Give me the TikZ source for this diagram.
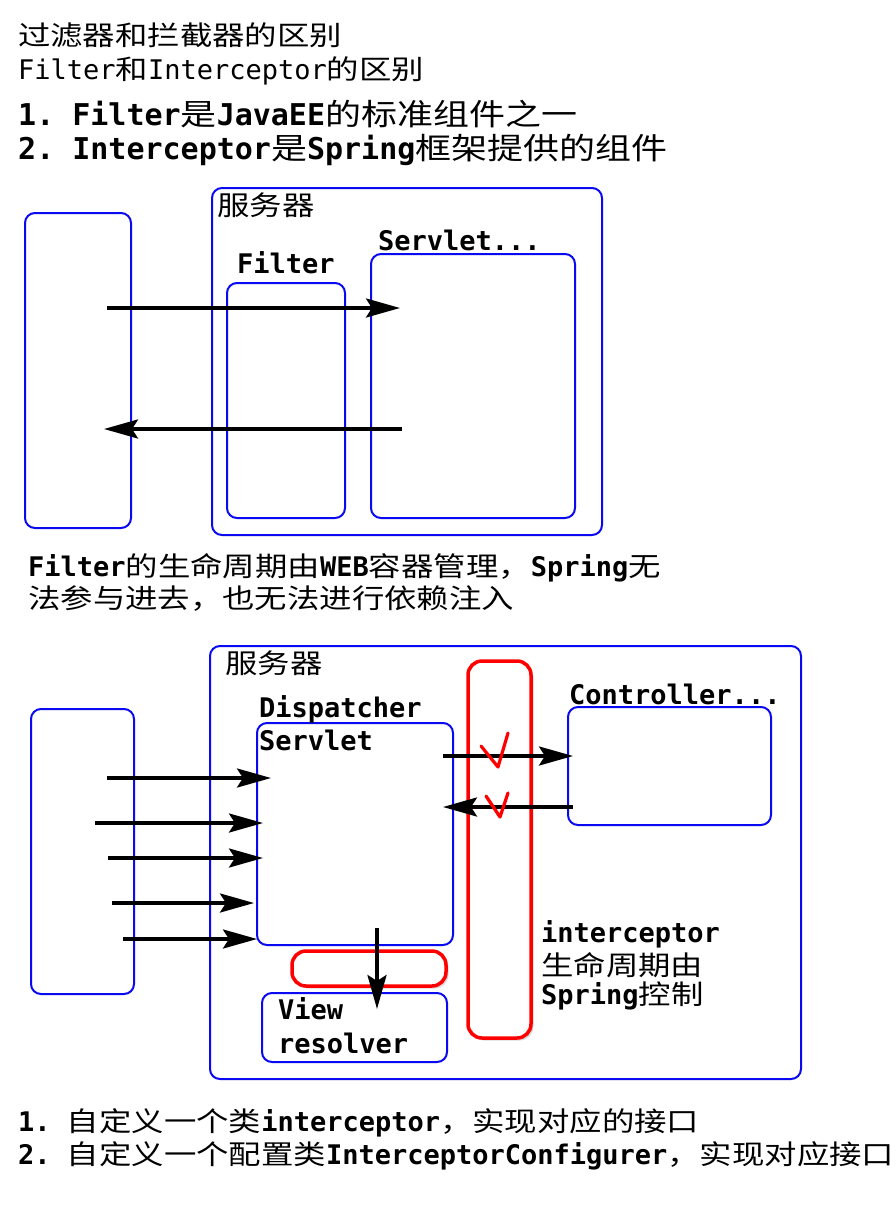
\documentclass[tikz,border=0pt]{standalone}
\usepackage{fontspec}
\setmainfont{DejaVu Sans Mono}
\newfontfamily\cjk{Noto Sans CJK SC}[FakeStretch=1.2]
\newcommand\zh[1]{{\cjk\mdseries #1}}
\frenchspacing
\usetikzlibrary{arrows.meta,shadows}
\definecolor{boxblue}{RGB}{10,10,240}
\tikzset{
  bluebox/.style={draw=boxblue, line width=2pt, rounded corners=10pt, inner sep=0pt, outer sep=0pt, anchor=north west},
  redbox/.style={draw=red, fill=white, line width=3.5pt, rounded corners=14pt, inner sep=0pt, outer sep=0pt, anchor=north west,
    drop shadow={shadow xshift=2.5pt, shadow yshift=-2.5pt, opacity=0.3}},
  lbl/.style={anchor=base west, inner sep=0pt, font=\fontsize{27}{33}\selectfont\bfseries},
  title/.style={anchor=base west, inner sep=0pt, font=\fontsize{27}{33}\selectfont},
  bigtitle/.style={anchor=base west, inner sep=0pt, font=\fontsize{30}{36}\selectfont\bfseries},
  flow/.style={line width=3.5pt, -{Stealth[length=34pt, width=19pt, inset=6pt]}},
  tick/.style={red, line width=3.2pt, line cap=round, line join=round},
}
\begin{document}
\begin{tikzpicture}[x=1pt,y=-1pt]
  \useasboundingbox (0,0) rectangle (895,1205);
  \fill[white] (0,0) rectangle (895,1205);

  % titles
  \node[title] (t1) at (18,45) {\zh{过滤器和拦截器的区别}};
  \node[title] (t2) at (18,79) {Filter\zh{和}Interceptor\zh{的区别}};
  \node[bigtitle] (t3) at (18,125) {1. Filter\zh{是}JavaEE\zh{的标准组件之一}};
  \node[bigtitle] (t4) at (18,159) {2. Interceptor\zh{是}Spring\zh{框架提供的组件}};

  % filter
  \node[bluebox, minimum width=106, minimum height=315] (client1) at (25,213) {};
  \node[bluebox, minimum width=390, minimum height=347] (server1) at (212,188) {};
  \node[bluebox, minimum width=118, minimum height=235] (filter) at (227,283) {};
  \node[bluebox, minimum width=204, minimum height=264] (servlet) at (371,254) {};
  \node[lbl] (server1lbl) at (217,215) {\zh{服务器}};
  \node[lbl] (filterlbl) at (237,273) {Filter};
  \node[lbl] (servletlbl) at (378,250) {Servlet...};

  \coordinate (req) at (107,308);
  \coordinate (reqend) at (400,308);
  \coordinate (resp) at (402,429);
  \coordinate (respend) at (104,429);
  \draw[flow] (req) -- (reqend);
  \draw[flow] (resp) -- (respend);

  \node[lbl] (note1) at (28,576) {Filter\zh{的生命周期由}WEB\zh{容器管理，}Spring\zh{无}};
  \node[lbl] (note2) at (28,608) {\zh{法参与进去，也无法进行依赖注入}};

  % interceptor
  \node[bluebox, minimum width=103, minimum height=285] (client2) at (31,709) {};
  \node[bluebox, minimum width=591, minimum height=433] (server2) at (210,646) {};
  \node[bluebox, minimum width=196, minimum height=222] (dispatcher) at (257,723) {};
  \node[bluebox, minimum width=203, minimum height=118] (controller) at (568,707) {};
  \node[redbox, minimum width=63, minimum height=377] (interceptor) at (468,661) {};
  \node[bluebox, minimum width=185, minimum height=69] (view) at (262,993) {};
  \node[redbox, minimum width=154, minimum height=35] (viewhook) at (292,951) {};

  \node[lbl] (server2lbl) at (225,673) {\zh{服务器}};
  \node[lbl] (displbl) at (259,717) {Dispatcher};
  \node[lbl] (displbl2) at (259,750) {Servlet};
  \node[lbl] (ctrllbl) at (569,704) {Controller...};
  \node[lbl] (icptlbl) at (541,942) {interceptor};
  \node[lbl] (icptlbl2) at (541,975) {\zh{生命周期由}};
  \node[lbl] (icptlbl3) at (541,1004) {Spring\zh{控制}};
  \node[lbl] (viewlbl) at (278,1019) {View};
  \node[lbl] (viewlbl2) at (278,1053) {resolver};

  \foreach \i/\y/\xa/\xb in {1/778/107/271, 2/823/95/263, 3/858/108/263, 4/903/112/254, 5/939/123/257} {
    \coordinate (in\i) at (\xa,\y);
    \coordinate (inend\i) at (\xb,\y);
    \draw[flow] (in\i) -- (inend\i);
  }

  \coordinate (call) at (443,756);
  \coordinate (callend) at (573,756);
  \coordinate (back) at (573,807);
  \coordinate (backend) at (443,807);
  \draw[flow] (call) -- (callend);
  \draw[flow] (back) -- (backend);

  \coordinate (render) at (377,928);
  \coordinate (renderend) at (377,1009);
  \draw[flow] (render) -- (renderend);

  \draw[tick] (481,746) -- (498,767) -- (508,733);
  \draw[tick] (486,796) -- (500,817) -- (508,793);

  \node[lbl] (step1) at (18,1131) {1. \zh{自定义一个类}interceptor\zh{，实现对应的接口}};
  \node[lbl] (step2) at (18,1164) {2. \zh{自定义一个配置类}InterceptorConfigurer\zh{，实现对应接口}};
\end{tikzpicture}
\end{document}
